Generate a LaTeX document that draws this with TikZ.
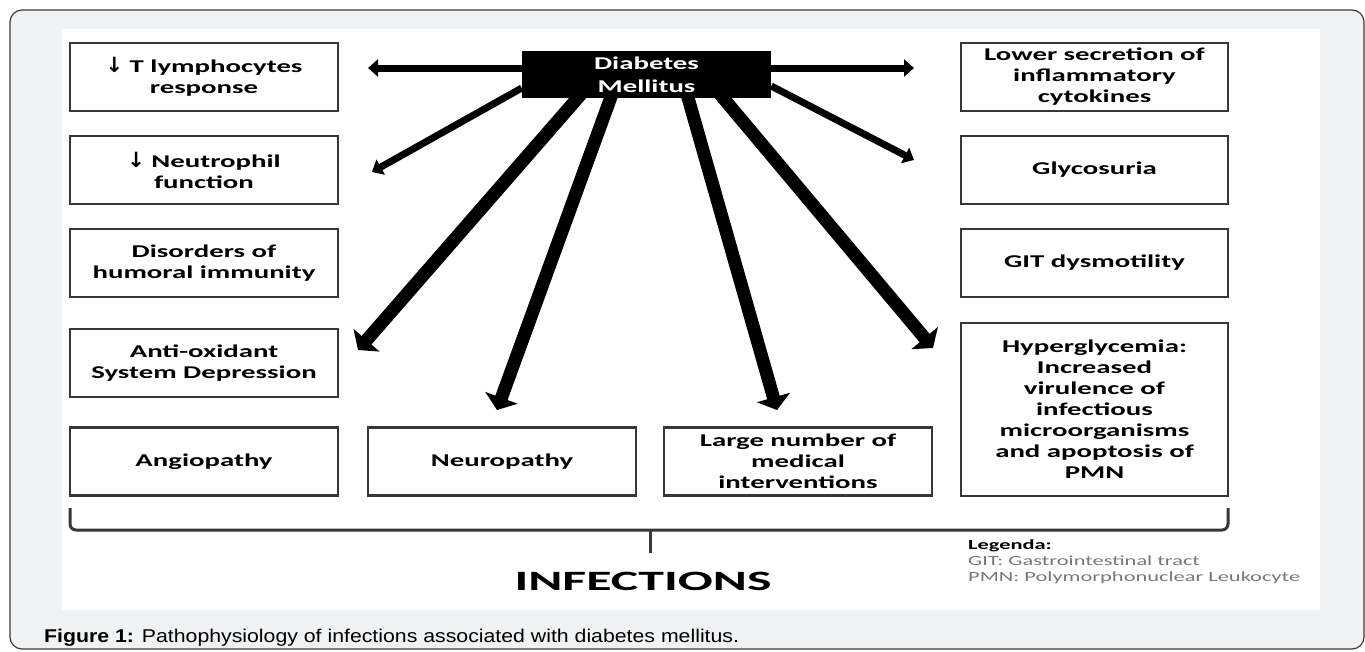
\documentclass[tikz,border=0pt]{standalone}
\usepackage{fontspec}
\setmainfont{Carlito}[FakeStretch=1.6]
\newfontfamily\bigfont{Carlito}[FakeStretch=1.85]
\newfontfamily\capfont{Liberation Sans}[FakeStretch=1.15]
\newfontfamily\symfont{DejaVu Sans}
\usetikzlibrary{arrows.meta}
\definecolor{pagegray}{RGB}{241,242,244}
\definecolor{framegray}{RGB}{60,60,60}
\definecolor{boxgray}{RGB}{55,55,55}
\definecolor{leggray}{RGB}{120,120,120}
\newcommand{\dn}{{\symfont\bfseries\fontsize{21}{21}\selectfont ↓}}

\begin{document}
\begin{tikzpicture}[
x=1pt, y=-1pt,
cause/.style = {
	draw=boxgray,
	line width=2.5pt,
	align=center,
	minimum width=268pt,
	minimum height=68pt,
	inner sep=2pt,
	font=\fontsize{18}{21}\selectfont\bfseries
	},
dm/.style = {
	fill=black,
	text=white,
	align=center,
	minimum width=249pt,
	minimum height=47pt,
	inner sep=0pt,
	font=\fontsize{18}{23}\selectfont\bfseries
	},
thinArr/.style = {
	-{Triangle[length=10pt,width=17pt]},
	line width=7pt
	},
thickArr/.style = {
	-{Triangle[length=13pt,width=34pt]},
	line width=13pt
	}
]

% BACKGROUND
\useasboundingbox (0,0) rectangle (1365,651);
\fill [white] (0,0) rectangle (1365,651);
\filldraw [fill=pagegray, draw=framegray, line width=1.2pt, rounded corners=12pt] (10,10) rectangle (1364,649);
\fill [white] (62,29) rectangle (1320,610);

% CENTRAL NODE
\node [dm] (dm) at (646.5,74.5) {Diabetes\\Mellitus};

% LEFT NODES
\node [cause] (tlym) at (204,77) {\dn\ T lymphocytes\\response};
\node [cause] (neut) at (204,170) {\dn\ Neutrophil\\function};
\node [cause] (humo) at (204,263) {Disorders of\\humoral immunity};
\node [cause] (anti) at (204,363) {Anti-oxidant\\System Depression};
\node [cause] (angio) at (204,461.5) {Angiopathy};

% BOTTOM NODES
\node [cause] (neuro) at (502,461.5) {Neuropathy};
\node [cause] (large) at (798,461.5) {Large number of\\medical\\interventions};

% RIGHT NODES
\node [cause, minimum width=267pt] (lower) at (1094.5,77) {Lower secretion of\\inflammatory\\cytokines};
\node [cause, minimum width=267pt] (glyc) at (1094.5,170) {Glycosuria};
\node [cause, minimum width=267pt] (git) at (1094.5,263) {GIT dysmotility};
\node [cause, minimum width=267pt, minimum height=173pt] (hyper) at (1094.5,409.5) {Hyperglycemia:\\Increased\\virulence of\\infectious\\microorganisms\\and apoptosis of\\PMN};

% ARROW ENDS
\coordinate (eTlym) at (368,68);
\coordinate (eNeut) at (372,172);
\coordinate (eAnti) at (358,350);
\coordinate (eNeuro) at (497,410);
\coordinate (eLarge) at (777,410);
\coordinate (eHyper) at (933,348);
\coordinate (eGlyc) at (914,160);
\coordinate (eLower) at (914,68);

% PATHS
\draw [thinArr] ([yshift=6.5pt]dm.west) -- (eTlym);
\draw [thinArr] ([yshift=-13.5pt]dm.west) -- (eNeut);
\draw [thinArr] ([yshift=6.5pt]dm.east) -- (eLower);
\draw [thinArr] ([yshift=-11.5pt]dm.east) -- (eGlyc);
\draw [thickArr] ([xshift=-65.5pt,yshift=4pt]dm.south) -- (eAnti);
\draw [thickArr] ([xshift=-34.5pt,yshift=4pt]dm.south) -- (eNeuro);
\draw [thickArr] ([xshift=40.5pt,yshift=4pt]dm.south) -- (eLarge);
\draw [thickArr] ([xshift=73.5pt,yshift=4pt]dm.south) -- (eHyper);

% BRACE
\draw [boxgray, line width=3pt, rounded corners=6pt] (70,508) -- (70,530) -- (1228,530) -- (1228,508);
\draw [boxgray, line width=3pt] (650,530) -- (650,553);
\node (inf) at (643,581) {\bigfont\fontsize{28}{30}\selectfont\bfseries INFECTIONS};

% LEGEND
\node [anchor=north west, align=left, inner sep=0pt, font=\fontsize{14}{16}\selectfont] (leg) at (968,539)
	{\textbf{Legenda:}\\\textcolor{leggray}{GIT: Gastrointestinal tract}\\\textcolor{leggray}{PMN: Polymorphonuclear Leukocyte}};

% CAPTION
\node [anchor=base west, inner sep=0pt, font=\capfont\fontsize{18.5}{20}\selectfont] (cap) at (44,642)
	{\textbf{Figure 1:} Pathophysiology of infections associated with diabetes mellitus.};
\end{tikzpicture}
\end{document}
